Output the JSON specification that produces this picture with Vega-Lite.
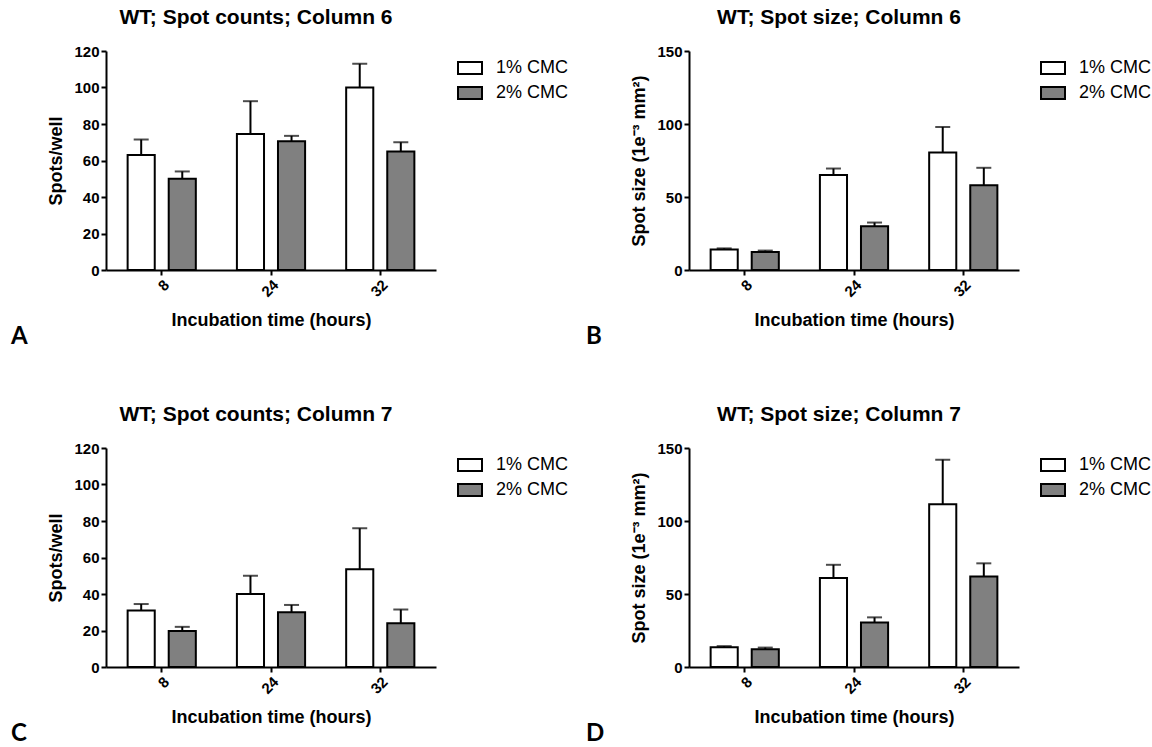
{
  "$schema": "https://vega.github.io/schema/vega-lite/v6.json",
  "background": "white",
  "padding": {"left": 10, "top": 7, "right": 0, "bottom": 0},
  "config": {
    "font": "Liberation Sans",
    "view": {"stroke": null},
    "axis": {
      "domainColor": "black", "domainWidth": 2,
      "tickColor": "black", "tickWidth": 2, "tickSize": 5,
      "labelFontSize": 15, "labelFontWeight": "bold", "labelColor": "black", "labelPadding": 2,
      "titleFontSize": 18, "titleFontWeight": "bold", "titleColor": "black",
      "grid": false
    },
    "axisY": {"titlePadding": 8, "labelOverlap": false},
    "axisX": {"titlePadding": 12, "labelAngle": -45},
    "legend": {
      "orient": "right", "offset": 17, "padding": 8,
      "symbolType": "M-2,-1H2V1H-2Z", "symbolSize": 144,
      "symbolStrokeColor": "black", "symbolStrokeWidth": 2,
      "labelFontSize": 18, "labelColor": "black", "labelOffset": 17, "rowPadding": 5
    },
    "title": {"color": "black", "fontWeight": "bold"}
  },
  "datasets": {
    "d": [
      {"panel": "A", "time": "8", "conc": "1% CMC", "mean": 63, "upper": 71.5},
      {"panel": "A", "time": "8", "conc": "2% CMC", "mean": 50, "upper": 54},
      {"panel": "A", "time": "24", "conc": "1% CMC", "mean": 74.5, "upper": 92.5},
      {"panel": "A", "time": "24", "conc": "2% CMC", "mean": 70.5, "upper": 73.5},
      {"panel": "A", "time": "32", "conc": "1% CMC", "mean": 100, "upper": 113},
      {"panel": "A", "time": "32", "conc": "2% CMC", "mean": 65, "upper": 70},
      {"panel": "B", "time": "8", "conc": "1% CMC", "mean": 14, "upper": 14.8},
      {"panel": "B", "time": "8", "conc": "2% CMC", "mean": 12.3, "upper": 13.3},
      {"panel": "B", "time": "24", "conc": "1% CMC", "mean": 65, "upper": 69.5},
      {"panel": "B", "time": "24", "conc": "2% CMC", "mean": 30, "upper": 32.5},
      {"panel": "B", "time": "32", "conc": "1% CMC", "mean": 80.5, "upper": 98},
      {"panel": "B", "time": "32", "conc": "2% CMC", "mean": 58, "upper": 70},
      {"panel": "C", "time": "8", "conc": "1% CMC", "mean": 31, "upper": 34.5},
      {"panel": "C", "time": "8", "conc": "2% CMC", "mean": 19.7, "upper": 22},
      {"panel": "C", "time": "24", "conc": "1% CMC", "mean": 40, "upper": 50},
      {"panel": "C", "time": "24", "conc": "2% CMC", "mean": 30, "upper": 34},
      {"panel": "C", "time": "32", "conc": "1% CMC", "mean": 53.5, "upper": 76},
      {"panel": "C", "time": "32", "conc": "2% CMC", "mean": 24, "upper": 31.5},
      {"panel": "D", "time": "8", "conc": "1% CMC", "mean": 13.5, "upper": 14.3},
      {"panel": "D", "time": "8", "conc": "2% CMC", "mean": 12.2, "upper": 13.3},
      {"panel": "D", "time": "24", "conc": "1% CMC", "mean": 61, "upper": 70},
      {"panel": "D", "time": "24", "conc": "2% CMC", "mean": 30.5, "upper": 34},
      {"panel": "D", "time": "32", "conc": "1% CMC", "mean": 111.5, "upper": 142},
      {"panel": "D", "time": "32", "conc": "2% CMC", "mean": 62, "upper": 71}
    ]
  },
  "spacing": 54,
  "resolve": {"legend": {"fill": "independent"}, "scale": {"fill": "independent"}},
  "vconcat": [
    {
      "spacing": 8,
      "resolve": {"legend": {"fill": "independent"}, "scale": {"fill": "independent"}},
      "hconcat": [
        {
          "title": {"text": "A", "orient": "bottom", "anchor": "start", "frame": "bounds", "font": "Lato", "fontSize": 24, "dx": -37, "offset": -4},
          "vconcat": [
            {
              "title": {"text": "WT; Spot counts; Column 6", "anchor": "middle", "dx": -15, "offset": 16, "fontSize": 21},
              "width": 330, "height": 219,
              "data": {"name": "d"},
              "transform": [{"filter": "datum.panel == 'A'"}],
              "encoding": {
                "x": {"field": "time", "type": "nominal", "sort": ["8", "24", "32"], "scale": {"paddingInner": 0, "paddingOuter": 0.01}, "title": "Incubation time (hours)"},
                "xOffset": {"field": "conc", "type": "nominal", "scale": {"paddingInner": 0.34, "paddingOuter": 0.5}}
              },
              "layer": [
                {"mark": {"type": "bar", "stroke": "black", "strokeWidth": 2},
                 "encoding": {
                   "y": {"field": "mean", "type": "quantitative", "scale": {"domain": [0, 120], "nice": false}, "title": "Spots/well", "axis": {"values": [0, 20, 40, 60, 80, 100, 120]}},
                   "fill": {"field": "conc", "type": "nominal", "scale": {"range": ["white", "#808080"]}, "title": null}
                 }},
                {"mark": {"type": "rule", "color": "black", "strokeWidth": 2},
                 "encoding": {"y": {"field": "mean", "type": "quantitative", "title": "Spots/well", "axis": {"values": [0, 20, 40, 60, 80, 100, 120]}}, "y2": {"field": "upper"}}},
                {"mark": {"type": "tick", "orient": "horizontal", "color": "black", "thickness": 2, "size": 15},
                 "encoding": {"y": {"field": "upper", "type": "quantitative", "title": "Spots/well", "axis": {"values": [0, 20, 40, 60, 80, 100, 120]}}}}
              ]
            }
          ]
        },
        {
          "title": {"text": "B", "orient": "bottom", "anchor": "start", "frame": "bounds", "font": "Lato", "fontSize": 24, "dx": -45, "offset": -4},
          "vconcat": [
            {
              "title": {"text": "WT; Spot size; Column 6", "anchor": "middle", "dx": -15, "offset": 16, "fontSize": 21},
              "width": 330, "height": 219,
              "data": {"name": "d"},
              "transform": [{"filter": "datum.panel == 'B'"}],
              "encoding": {
                "x": {"field": "time", "type": "nominal", "sort": ["8", "24", "32"], "scale": {"paddingInner": 0, "paddingOuter": 0.01}, "title": "Incubation time (hours)"},
                "xOffset": {"field": "conc", "type": "nominal", "scale": {"paddingInner": 0.34, "paddingOuter": 0.5}}
              },
              "layer": [
                {"mark": {"type": "bar", "stroke": "black", "strokeWidth": 2},
                 "encoding": {
                   "y": {"field": "mean", "type": "quantitative", "scale": {"domain": [0, 150], "nice": false}, "title": "Spot size (1e⁻³ mm²)", "axis": {"values": [0, 50, 100, 150]}},
                   "fill": {"field": "conc", "type": "nominal", "scale": {"range": ["white", "#808080"]}, "title": null}
                 }},
                {"mark": {"type": "rule", "color": "black", "strokeWidth": 2},
                 "encoding": {"y": {"field": "mean", "type": "quantitative", "title": "Spot size (1e⁻³ mm²)", "axis": {"values": [0, 50, 100, 150]}}, "y2": {"field": "upper"}}},
                {"mark": {"type": "tick", "orient": "horizontal", "color": "black", "thickness": 2, "size": 15},
                 "encoding": {"y": {"field": "upper", "type": "quantitative", "title": "Spot size (1e⁻³ mm²)", "axis": {"values": [0, 50, 100, 150]}}}}
              ]
            }
          ]
        }
      ]
    },
    {
      "spacing": 8,
      "resolve": {"legend": {"fill": "independent"}, "scale": {"fill": "independent"}},
      "hconcat": [
        {
          "title": {"text": "C", "orient": "bottom", "anchor": "start", "frame": "bounds", "font": "Lato", "fontSize": 24, "dx": -37, "offset": -4},
          "vconcat": [
            {
              "title": {"text": "WT; Spot counts; Column 7", "anchor": "middle", "dx": -15, "offset": 16, "fontSize": 21},
              "width": 330, "height": 219,
              "data": {"name": "d"},
              "transform": [{"filter": "datum.panel == 'C'"}],
              "encoding": {
                "x": {"field": "time", "type": "nominal", "sort": ["8", "24", "32"], "scale": {"paddingInner": 0, "paddingOuter": 0.01}, "title": "Incubation time (hours)"},
                "xOffset": {"field": "conc", "type": "nominal", "scale": {"paddingInner": 0.34, "paddingOuter": 0.5}}
              },
              "layer": [
                {"mark": {"type": "bar", "stroke": "black", "strokeWidth": 2},
                 "encoding": {
                   "y": {"field": "mean", "type": "quantitative", "scale": {"domain": [0, 120], "nice": false}, "title": "Spots/well", "axis": {"values": [0, 20, 40, 60, 80, 100, 120]}},
                   "fill": {"field": "conc", "type": "nominal", "scale": {"range": ["white", "#808080"]}, "title": null}
                 }},
                {"mark": {"type": "rule", "color": "black", "strokeWidth": 2},
                 "encoding": {"y": {"field": "mean", "type": "quantitative", "title": "Spots/well", "axis": {"values": [0, 20, 40, 60, 80, 100, 120]}}, "y2": {"field": "upper"}}},
                {"mark": {"type": "tick", "orient": "horizontal", "color": "black", "thickness": 2, "size": 15},
                 "encoding": {"y": {"field": "upper", "type": "quantitative", "title": "Spots/well", "axis": {"values": [0, 20, 40, 60, 80, 100, 120]}}}}
              ]
            }
          ]
        },
        {
          "title": {"text": "D", "orient": "bottom", "anchor": "start", "frame": "bounds", "font": "Lato", "fontSize": 24, "dx": -45, "offset": -4},
          "vconcat": [
            {
              "title": {"text": "WT; Spot size; Column 7", "anchor": "middle", "dx": -15, "offset": 16, "fontSize": 21},
              "width": 330, "height": 219,
              "data": {"name": "d"},
              "transform": [{"filter": "datum.panel == 'D'"}],
              "encoding": {
                "x": {"field": "time", "type": "nominal", "sort": ["8", "24", "32"], "scale": {"paddingInner": 0, "paddingOuter": 0.01}, "title": "Incubation time (hours)"},
                "xOffset": {"field": "conc", "type": "nominal", "scale": {"paddingInner": 0.34, "paddingOuter": 0.5}}
              },
              "layer": [
                {"mark": {"type": "bar", "stroke": "black", "strokeWidth": 2},
                 "encoding": {
                   "y": {"field": "mean", "type": "quantitative", "scale": {"domain": [0, 150], "nice": false}, "title": "Spot size (1e⁻³ mm²)", "axis": {"values": [0, 50, 100, 150]}},
                   "fill": {"field": "conc", "type": "nominal", "scale": {"range": ["white", "#808080"]}, "title": null}
                 }},
                {"mark": {"type": "rule", "color": "black", "strokeWidth": 2},
                 "encoding": {"y": {"field": "mean", "type": "quantitative", "title": "Spot size (1e⁻³ mm²)", "axis": {"values": [0, 50, 100, 150]}}, "y2": {"field": "upper"}}},
                {"mark": {"type": "tick", "orient": "horizontal", "color": "black", "thickness": 2, "size": 15},
                 "encoding": {"y": {"field": "upper", "type": "quantitative", "title": "Spot size (1e⁻³ mm²)", "axis": {"values": [0, 50, 100, 150]}}}}
              ]
            }
          ]
        }
      ]
    }
  ]
}
